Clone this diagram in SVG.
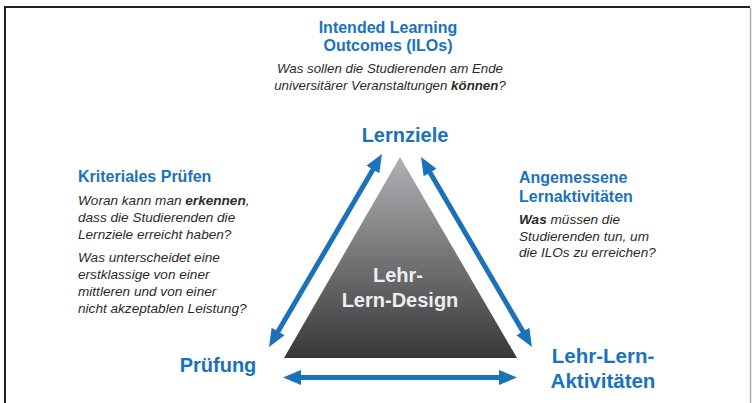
<svg xmlns="http://www.w3.org/2000/svg" width="754" height="403" viewBox="0 0 754 403">
<defs>
<style>
.h{font-family:"Liberation Sans",Arial,sans-serif;font-weight:bold;fill:#1a72bd}
.q{font-family:"Liberation Sans",Arial,sans-serif;font-style:italic;fill:#2b2b2b;font-size:13.6px}
.b{font-weight:bold}
.arr{stroke:#1b72bb;stroke-width:5;fill:none;marker-start:url(#ah);marker-end:url(#ah)}
.tt{font-family:"Liberation Sans",Arial,sans-serif;font-weight:bold;font-size:20px;fill:#eeeeee}
</style>
<marker id="ah" markerUnits="userSpaceOnUse" markerWidth="24" markerHeight="20" viewBox="0 -10 24 20" refX="6" refY="0" orient="auto-start-reverse">
<path d="M0,-7.5 L18,0 L0,7.5 z" fill="#1b72bb"/>
</marker>
<linearGradient id="tg" x1="0" y1="157" x2="0" y2="358" gradientUnits="userSpaceOnUse">
<stop offset="0" stop-color="#b0b1b4"/>
<stop offset="1" stop-color="#38383a"/>
</linearGradient>
</defs>
<rect width="754" height="403" fill="#fff"/>
<g id="frame">
<line x1="5" y1="7" x2="750" y2="7" stroke="#222" stroke-width="2"/>
<line x1="5" y1="6" x2="5" y2="403" stroke="#222" stroke-width="2"/>
<line x1="750.5" y1="8" x2="750.5" y2="403" stroke="#aaa" stroke-width="1.5"/>
</g>
<g id="ilos">
<text class="h" font-size="16" text-anchor="middle" x="388" y="33">Intended Learning</text>
<text class="h" font-size="16" text-anchor="middle" x="388" y="51">Outcomes (ILOs)</text>
<text class="q" text-anchor="middle" x="390" y="73" style="font-size:13.3px">Was sollen die Studierenden am Ende</text>
<text class="q" text-anchor="middle" x="390" y="90" style="font-size:13.3px">universitärer Veranstaltungen <tspan class="b">können</tspan>?</text>
</g>
<g id="kriteriales">
<text class="h" font-size="16" x="78" y="182">Kriteriales Prüfen</text>
<text class="q" x="78" y="205">Woran kann man <tspan class="b">erkennen</tspan>,</text>
<text class="q" x="78" y="222">dass die Studierenden die</text>
<text class="q" x="78" y="239">Lernziele erreicht haben?</text>
<text class="q" x="78" y="262">Was unterscheidet eine</text>
<text class="q" x="78" y="279">erstklassige von einer</text>
<text class="q" x="78" y="296">mittleren und von einer</text>
<text class="q" x="78" y="313">nicht akzeptablen Leistung?</text>
</g>
<g id="angemessene">
<text class="h" font-size="16" x="519" y="183">Angemessene</text>
<text class="h" font-size="16" x="519" y="202">Lernaktivitäten</text>
<text class="q" x="519" y="224"><tspan class="b">Was</tspan> müssen die</text>
<text class="q" x="519" y="241">Studierenden tun, um</text>
<text class="q" x="519" y="257">die ILOs zu erreichen?</text>
</g>
<g id="design">
<polygon points="400,157 284,358 517,358" fill="url(#tg)"/>
<text class="tt" text-anchor="middle" x="398" y="282">Lehr-</text>
<text class="tt" text-anchor="middle" x="400" y="307">Lern-Design</text>
</g>
<g id="lernziele">
<text class="h" font-size="20" text-anchor="middle" x="405" y="142">Lernziele</text>
</g>
<g id="pruefung">
<text class="h" font-size="20" text-anchor="middle" x="218" y="372">Prüfung</text>
</g>
<g id="aktivitaeten">
<text class="h" font-size="20.5" text-anchor="middle" x="603" y="363">Lehr-Lern-</text>
<text class="h" font-size="20.5" text-anchor="middle" x="603" y="388">Aktivitäten</text>
</g>
<g id="connectors">
<line class="arr" x1="275.1" y1="336.6" x2="375.9" y2="164.4"/>
<line class="arr" x1="427.1" y1="167.4" x2="525.9" y2="336.6"/>
<line class="arr" x1="295" y1="377.5" x2="505" y2="377.5"/>
</g>
</svg>
